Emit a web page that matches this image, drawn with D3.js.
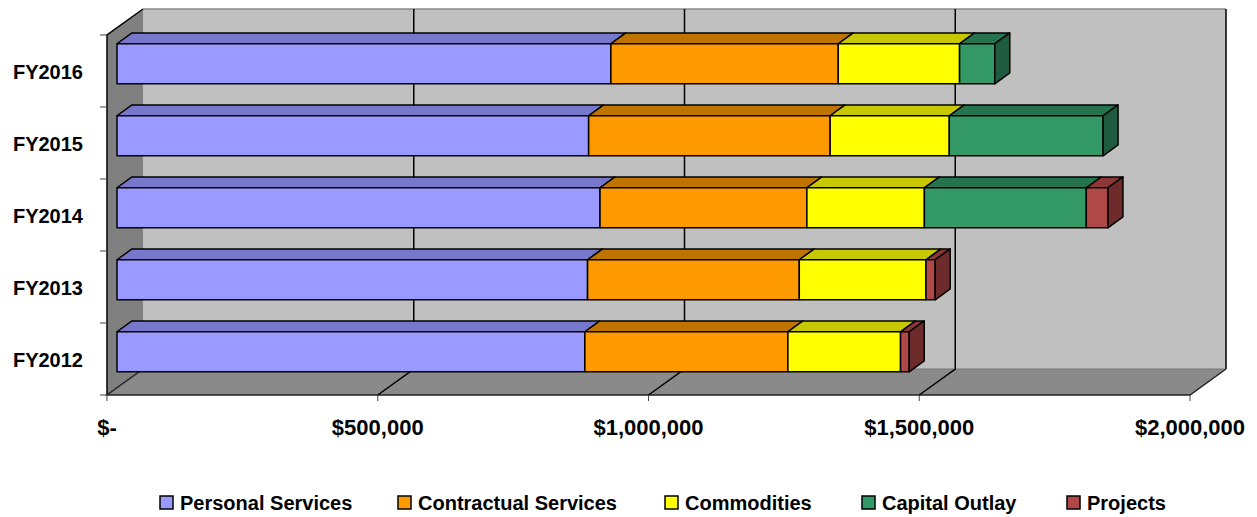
<!DOCTYPE html>
<html><head><meta charset="utf-8">
<script src="https://cdn.jsdelivr.net/npm/d3@7"></script>
<style>body{margin:0;background:#fff}svg{display:block}text{font-family:"Liberation Sans",Arial,sans-serif;font-weight:bold;fill:#000}</style>
</head><body>
<svg id="c" width="1257" height="517"></svg>
<script>
const categories = ["FY2012","FY2013","FY2014","FY2015","FY2016"];
const seriesNames = ["Personal Services","Contractual Services","Commodities","Capital Outlay","Projects"];
const personal    = [864000, 869000, 892000, 871000, 912000];
const contractual = [375000, 391000, 382000, 446000, 420000];
const commodities = [208000, 234000, 217000, 220000, 224000];
const capital     = [0, 0, 299000, 284000, 65000];
const projects    = [16000, 17000, 40000, 0, 0];
const xTicks = [0, 500000, 1000000, 1500000, 2000000];
const xTickLabels = ["$-", "$500,000", "$1,000,000", "$1,500,000", "$2,000,000"];

const frontCol = ["#9999ff","#ff9900","#ffff00","#339966","#b04848"];
const topCol   = ["#7777cc","#c07400","#c8c800","#267350","#8c3636"];
const sideCol  = ["#5c5c99","#a06000","#a0a000","#1f5c3f","#6e2b2b"];

const rows = categories.map((c,i)=>({cat:c, "Personal Services":personal[i], "Contractual Services":contractual[i], "Commodities":commodities[i], "Capital Outlay":capital[i], "Projects":projects[i]}));
const stack = d3.stack().keys(seriesNames)(rows);

const svg = d3.select("#c");
const x = d3.scaleLinear().domain([0,2000000]).range([107,1190]);
const y = d3.scaleBand().domain(categories.slice().reverse()).range([35,395]).paddingInner(0.444).paddingOuter(0.222);
const DX = 36, DY = -26;
const f1 = 10/36, f2 = 25/36;
const P = (v, yy, f) => [x(v)+DX*f, yy+DY*f];
const yTop = 35, yBot = 395;

// back wall
svg.append("rect").attr("x", x(0)+DX).attr("y", yTop+DY).attr("width", x(2000000)-x(0)).attr("height", yBot-yTop).attr("fill","#c0c0c0");
svg.append("line").attr("x1",x(0)+DX).attr("x2",x(2000000)+DX).attr("y1",yTop+DY).attr("y2",yTop+DY).attr("stroke","#8a8a8a").attr("stroke-width",1.5);
svg.append("line").attr("x1",x(2000000)+DX).attr("x2",x(2000000)+DX).attr("y1",yTop+DY).attr("y2",yBot+DY).attr("stroke","#000").attr("stroke-width",1.5);
// left wall
svg.append("polygon").attr("points",[[x(0),yTop],[x(0)+DX,yTop+DY],[x(0)+DX,yBot+DY],[x(0),yBot]].join(" ")).attr("fill","#808080");
svg.append("polyline").attr("points",[[x(0),yBot],[x(0),yTop],[x(0)+DX,yTop+DY]].join(" ")).attr("fill","none").attr("stroke","#000").attr("stroke-width",1.5);
// floor
svg.append("polygon").attr("points",[[x(0),yBot],[x(2000000),yBot],[x(2000000)+DX,yBot+DY],[x(0)+DX,yBot+DY]].join(" ")).attr("fill","#8a8a8a");
svg.append("line").attr("x1",x(0)+DX).attr("x2",x(2000000)+DX).attr("y1",yBot+DY).attr("y2",yBot+DY).attr("stroke","#777").attr("stroke-width",1);
svg.append("polyline").attr("points",[[x(0)+DX,yBot+DY],[x(0),yBot],[x(2000000),yBot],[x(2000000)+DX,yBot+DY]].join(" ")).attr("fill","none").attr("stroke","#222").attr("stroke-width",1.5);

// gridlines
xTicks.slice(1,-1).forEach(t=>{
  svg.append("polyline").attr("points",[[x(t)+DX,yTop+DY],[x(t)+DX,yBot+DY],[x(t),yBot]].join(" ")).attr("fill","none").attr("stroke","#000").attr("stroke-width",1.5);
});

// axes ticks
xTicks.forEach(t=>{
  svg.append("line").attr("x1",x(t)).attr("x2",x(t)).attr("y1",yBot).attr("y2",yBot+6).attr("stroke","#444").attr("stroke-width",1);
});
const yb = [35,107,179,251,323,395];
yb.forEach(v=>svg.append("line").attr("x1",x(0)-7).attr("x2",x(0)).attr("y1",v).attr("y2",v).attr("stroke","#444").attr("stroke-width",1));

// tick labels
svg.selectAll(".xl").data(xTicks).enter().append("text").attr("class","xl")
  .attr("x",d=>x(d)).attr("y",435).attr("text-anchor","middle").attr("font-size",22).text((d,i)=>xTickLabels[i]);
svg.selectAll(".yl").data(categories).enter().append("text").attr("class","yl")
  .attr("x",83).attr("y",d=>y(d)+y.bandwidth()/2+8).attr("text-anchor","end").attr("font-size",20).text(d=>d);

// bars
const g = svg.append("g").attr("stroke","#000").attr("stroke-width",1.5).attr("stroke-linejoin","round");
categories.forEach((c,ci)=>{
  const t = y(c), b = y(c)+y.bandwidth();
  let last = -1;
  stack.forEach((s,si)=>{ if (s[ci][1]-s[ci][0] > 0) last = si; });
  stack.forEach((s,si)=>{
    const v0 = s[ci][0], v1 = s[ci][1];
    if (v1 - v0 <= 0) return;
    g.append("polygon").attr("points",[P(v0,t,f1),P(v1,t,f1),P(v1,t,f2),P(v0,t,f2)].join(" ")).attr("fill",topCol[si]);
    const a = P(v0,t,f1), d = P(v1,b,f1);
    g.append("rect").attr("x",a[0]).attr("y",a[1]).attr("width",d[0]-a[0]).attr("height",d[1]-a[1]).attr("fill",frontCol[si]);
    if (si === last) {
      g.append("polygon").attr("points",[P(v1,t,f1),P(v1,t,f2),P(v1,b,f2),P(v1,b,f1)].join(" ")).attr("fill",sideCol[si]);
    }
  });
});

// legend
const legX = [160, 398, 665, 862, 1067];
const lg = svg.append("g");
seriesNames.forEach((n,i)=>{
  lg.append("rect").attr("x",legX[i]).attr("y",496).attr("width",13).attr("height",13).attr("fill",frontCol[i]).attr("stroke","#000").attr("stroke-width",1.5);
  lg.append("text").attr("x",legX[i]+20).attr("y",510).attr("font-size",20).text(n);
});
</script>
</body></html>
